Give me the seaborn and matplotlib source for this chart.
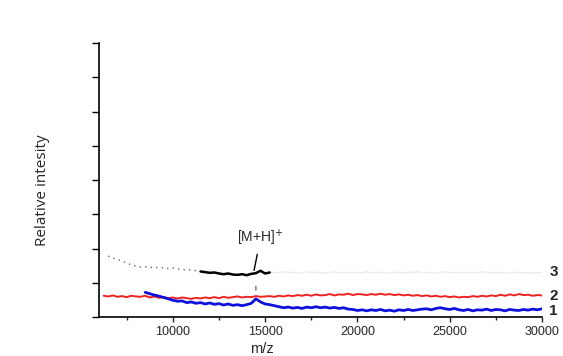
import numpy as np
import pandas as pd
import matplotlib
matplotlib.use("Agg")
import matplotlib.pyplot as plt
import seaborn as sns

# ---- data (m/z grid step 250) ----
mz_red = np.arange(6250, 30001, 250)
red_vals = [0.62,0.60,0.63,0.59, 0.61,0.58,0.62,0.60, 0.59,0.62,0.57,0.60,
            0.56,0.58,0.55,0.57, 0.54,0.57,0.55,0.53, 0.56,0.54,0.57,0.55,
            0.58,0.55,0.59,0.56, 0.58,0.60,0.57,0.59, 0.58,0.61,0.59,0.60,
            0.61,0.59,0.62,0.60, 0.63,0.61,0.64,0.62, 0.65,0.62,0.66,0.63,
            0.64,0.67,0.63,0.66, 0.65,0.68,0.64,0.67, 0.66,0.64,0.67,0.65,
            0.68,0.65,0.67,0.64, 0.66,0.63,0.65,0.62, 0.64,0.61,0.63,0.60,
            0.62,0.59,0.61,0.58, 0.60,0.57,0.59,0.58, 0.61,0.59,0.62,0.60,
            0.63,0.61,0.65,0.62, 0.66,0.63,0.67,0.64, 0.65,0.62,0.64,0.63]

mz_blue = np.arange(8500, 30001, 250)
blue_vals = [0.72,
             0.68,0.64,0.61,0.57, 0.53,0.49,0.46,0.47, 0.42,0.44,0.40,0.42,
             0.38,0.41,0.37,0.39, 0.35,0.38,0.34,0.36, 0.33,0.36,0.40,0.53,
             0.44,0.38,0.36,0.33, 0.30,0.27,0.29,0.26, 0.28,0.25,0.29,0.27,
             0.30,0.27,0.29,0.26, 0.28,0.25,0.27,0.23, 0.22,0.19,0.21,0.18,
             0.21,0.19,0.22,0.18, 0.20,0.17,0.21,0.19, 0.22,0.19,0.21,0.23,
             0.24,0.21,0.25,0.27, 0.24,0.22,0.25,0.21, 0.19,0.22,0.18,0.21,
             0.20,0.23,0.19,0.22, 0.21,0.18,0.22,0.20, 0.19,0.22,0.20,0.23,
             0.21,0.24]

mz_black = np.arange(6500, 30001, 250)
black_vals = [1.78,1.72,1.68,1.63, 1.58,1.52,1.49,1.46, 1.47,1.44,1.46,1.43,
              1.44,1.41,1.43,1.40, 1.39,1.37,1.38,1.35, 1.33,1.31,1.29,1.30,
              1.27,1.25,1.27,1.24, 1.23,1.25,1.22,1.26, 1.28,1.35,1.27,1.30,
              1.31,1.29,1.32,1.30, 1.31,1.28,1.30,1.32, 1.29,1.31,1.30,1.28,
              1.30,1.32,1.29,1.31, 1.30,1.28,1.31,1.29, 1.32,1.30,1.29,1.31,
              1.30,1.28,1.31,1.30, 1.29,1.31,1.30,1.32, 1.30,1.29,1.31,1.28,
              1.30,1.32,1.29,1.31, 1.30,1.28,1.31,1.29, 1.30,1.32,1.30,1.29,
              1.31,1.29,1.30,1.28, 1.30,1.31,1.29,1.30, 1.28,1.30,1.29]

curve_labels = ["1", "2", "3"]
x_ticks = [10000, 15000, 20000, 25000, 30000]
peak_label = "[M+H]$^{+}$"

sns.set_style("ticks")
plt.rcParams['font.family'] = ['Liberation Sans', 'DejaVu Sans']

fig = plt.figure(figsize=(5.63, 3.56), dpi=100)
ax = fig.add_axes([99/563, 1 - 317/356, (542 - 99)/563, (317 - 43)/356])

df_red = pd.DataFrame({"mz": mz_red, "I": red_vals})
df_blue = pd.DataFrame({"mz": mz_blue, "I": blue_vals})
df_black = pd.DataFrame({"mz": mz_black, "I": black_vals})

left = df_black[df_black.mz <= 11500]
mid = df_black[(df_black.mz >= 11500) & (df_black.mz <= 15250)]
right = df_black[df_black.mz >= 15250]

sns.lineplot(data=right, x="mz", y="I", ax=ax, color="0.92", lw=0.9)
sns.lineplot(data=left, x="mz", y="I", ax=ax, color="0.4", lw=1.0, linestyle=(0, (1, 3)))
sns.lineplot(data=mid, x="mz", y="I", ax=ax, color="black", lw=1.8)
sns.lineplot(data=df_red, x="mz", y="I", ax=ax, color="#ee2222", lw=1.4)
sns.lineplot(data=df_blue, x="mz", y="I", ax=ax, color="#1010dd", lw=2.0)

ax.set_xlim(6000, 30000)
ax.set_ylim(0, 8)
ax.set_yticks(np.arange(0, 9, 1))
ax.set_yticklabels([])
ax.set_xticks(x_ticks)
ax.set_xticklabels([str(t) for t in x_ticks], fontsize=9)
ax.set_xticks([7500, 12500, 17500, 22500, 27500], minor=True)
ax.tick_params(axis="y", direction="out", length=5, width=1, colors="black")
ax.tick_params(axis="x", which="major", direction="out", length=3.5, width=1, pad=3)
ax.tick_params(axis="x", which="minor", direction="out", length=2.5, width=1)
ax.set_xlabel("")
ax.set_ylabel("")
for s in ["top", "right"]:
    ax.spines[s].set_visible(False)
for s in ["left", "bottom"]:
    ax.spines[s].set_linewidth(1.2)
    ax.spines[s].set_color("black")

# annotation for the molecular ion
ax.annotate(peak_label, xy=(14400, 1.36), xytext=(14750, 2.3),
            ha="center", va="center", fontsize=10,
            arrowprops=dict(arrowstyle="-", color="black", lw=1.0, shrinkA=2, shrinkB=0))
ax.annotate("", xy=(14500, 0.78), xytext=(14500, 0.9),
            arrowprops=dict(arrowstyle="-", color="0.3", lw=0.8, shrinkA=0, shrinkB=0))

# curve numbers
for lab, yv in zip(curve_labels, [0.18, 0.62, 1.32]):
    ax.text(30400, yv, lab, fontsize=11, fontweight="bold", ha="left", va="center",
            clip_on=False)

fig.text(42/563, 1 - 190/356, "Relative intesity", rotation=90, ha="center", va="center",
         fontsize=11, family=["Open Sans", "DejaVu Sans"])
fig.text(262/563, 1 - 349/356, "m/z", ha="center", va="center", fontsize=10.5)

fig.savefig("out.png", dpi=100, facecolor="white")
